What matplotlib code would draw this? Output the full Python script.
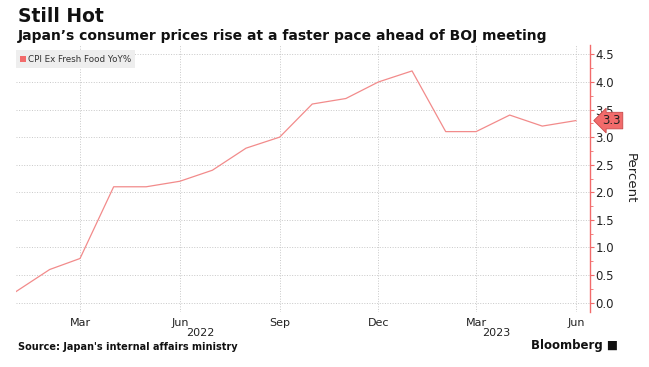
import matplotlib.pyplot as plt
import matplotlib.dates as mdates
import matplotlib.transforms as mtransforms
from matplotlib.patches import Rectangle
from matplotlib.ticker import MultipleLocator
from datetime import datetime

months = ['2022-01', '2022-02', '2022-03', '2022-04', '2022-05', '2022-06',
          '2022-07', '2022-08', '2022-09', '2022-10', '2022-11', '2022-12',
          '2023-01', '2023-02', '2023-03', '2023-04', '2023-05', '2023-06']
cpi = [0.2, 0.6, 0.8, 2.1, 2.1, 2.2, 2.4, 2.8, 3.0, 3.6, 3.7, 4.0,
       4.2, 3.1, 3.1, 3.4, 3.2, 3.3]
series_name = 'CPI Ex Fresh Food YoY%'
y_ticks = [0.0, 0.5, 1.0, 1.5, 2.0, 2.5, 3.0, 3.5, 4.0, 4.5]

dates = [datetime.strptime(m, '%Y-%m') for m in months]
line_c = '#f28b8b'
tag_c = '#f26b6b'

W, H = 649, 367
fig = plt.figure(figsize=(6.49, 3.67), dpi=100)
ax = fig.add_axes([16 / W, 1 - 312 / H, 574 / W, 267 / H])

ax.plot(dates, cpi, c=line_c, lw=0.9)

ax.set_xlim(dates[0], datetime(2023, 6, 14))
ax.set_ylim(-0.17, 4.67)

# y axis on right, red spine
ax.yaxis.tick_right()
ax.yaxis.set_label_position('right')
ax.set_yticks(y_ticks)
ax.set_yticklabels(['%.1f' % v for v in y_ticks])
ax.yaxis.set_minor_locator(MultipleLocator(0.25))
ax.tick_params(axis='y', which='major', colors=tag_c, length=3, width=0.8,
               labelcolor='#222222', labelsize=8.5, pad=1)
ax.tick_params(axis='y', which='minor', colors=tag_c, length=2, width=0.6)
ax.set_ylabel('Percent', rotation=270, fontsize=9.5, labelpad=16, color='#222222')

for s in ['top', 'left', 'bottom']:
    ax.spines[s].set_visible(False)
ax.spines['right'].set_color(tag_c)
ax.spines['right'].set_linewidth(1.0)

# x axis quarters
ax.xaxis.set_major_locator(mdates.MonthLocator(bymonth=[3, 6, 9, 12]))
ax.xaxis.set_major_formatter(mdates.DateFormatter('%b'))
ax.tick_params(axis='x', length=0, labelsize=8, labelcolor='#222222', pad=4)

ax.grid(True, which='major', color='#c8c8c8', ls=':', lw=0.7)

# year labels
trans = mtransforms.blended_transform_factory(ax.transData, ax.transAxes)
ax.text(datetime(2022, 6, 20), -21 / 267, '2022', fontsize=8, color='#222222',
        ha='center', va='center', transform=trans)
ax.text(datetime(2023, 3, 20), -21 / 267, '2023', fontsize=8, color='#222222',
        ha='center', va='center', transform=trans)

# legend box
fig.patches.append(Rectangle((16 / W, 1 - 68 / H), 119 / W, 18 / H,
                             transform=fig.transFigure, fc='#eeeeee', ec='none', zorder=1))
fig.patches.append(Rectangle((20 / W, 1 - 62 / H), 6 / W, 6 / H,
                             transform=fig.transFigure, fc=tag_c, ec='none', zorder=2))
fig.text(28 / W, 1 - 59 / H, series_name, fontsize=6.3, color='#333333', va='center')

# last value tag
ax.annotate('%.1f' % cpi[-1], xy=(1.0, cpi[-1]), xycoords=('axes fraction', 'data'),
            xytext=(9, 0), textcoords='offset points', fontsize=8.5, color='#222222',
            va='center', ha='left',
            bbox=dict(boxstyle='larrow,pad=0.15', fc=tag_c, ec='#c84a4a', lw=0.6))

fig.text(18 / W, 1 - 16 / H, 'Still Hot', fontsize=13.5, fontweight='bold',
         va='center', color='#111111')
fig.text(18 / W, 1 - 36 / H, 'Japan\u2019s consumer prices rise at a faster pace ahead of BOJ meeting',
         fontsize=10, fontweight='bold', va='center', color='#111111')
fig.text(18 / W, 1 - 347 / H, "Source: Japan's internal affairs ministry",
         fontsize=7, fontweight='bold', va='center', color='#111111')
fig.text(618 / W, 1 - 346 / H, 'Bloomberg \u25a0', fontsize=8.5, fontweight='bold',
         va='center', ha='right', color='#111111')

fig.savefig('out.png', dpi=100)
